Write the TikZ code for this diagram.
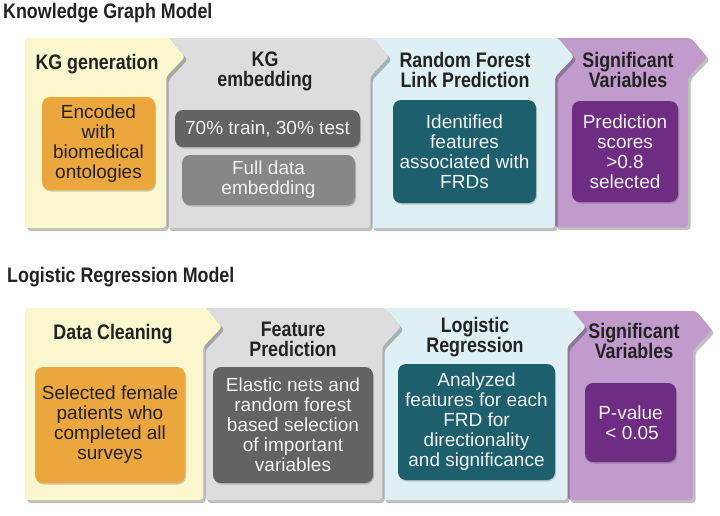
\documentclass[tikz,border=0pt]{standalone}
\usepackage{fontspec}
\setmainfont{Liberation Sans}
\newfontfamily\hdrfont[FakeStretch=0.85]{Liberation Sans}
\usetikzlibrary{shadows}
\definecolor{pyellow}{HTML}{FAF6CD}
\definecolor{pgray}{HTML}{DDDDDD}
\definecolor{pblue}{HTML}{DEF0F3}
\definecolor{ppurple}{HTML}{C09BCB}
\definecolor{borange}{HTML}{EBA63E}
\definecolor{bdgray}{HTML}{636363}
\definecolor{bmgray}{HTML}{878787}
\definecolor{bteal}{HTML}{1E5F6E}
\definecolor{bpurple}{HTML}{6E2D82}
\definecolor{txtdark}{HTML}{222222}
\definecolor{txtlight}{HTML}{F2F2F2}
\newcommand\chevpanel[5]{%
  \fill[#5, rounded corners=3pt, panelshadow] (#1,#3) -- ({#2+3},#3) -- ({#2+19},{#3+19}) -- (#2,{#3+39}) -- (#2,#4) -- (#1,#4) -- cycle;}
\begin{document}
\begin{tikzpicture}[x=1pt,y=-1pt,
  panelshadow/.style={drop shadow={shadow xshift=2.5pt,shadow yshift=-3pt,opacity=0.25,fill=black}},
  boxshadow/.style={drop shadow={shadow xshift=1pt,shadow yshift=-1.5pt,opacity=0.18,fill=black}},
  title/.style={font=\hdrfont\bfseries\fontsize{21}{20}\selectfont, text=txtdark, inner sep=0pt, anchor=base west},
  head/.style={font=\hdrfont\bfseries\fontsize{21}{20}\selectfont, text=txtdark, align=center, inner sep=0pt},
  ibox/.style={rounded corners=8pt, font=\fontsize{19}{20}\selectfont, align=center, inner sep=0pt, text=txtlight, boxshadow},
]
\fill[white] (0,0) rectangle (720,515);
\useasboundingbox (0,0) rectangle (720,515);

% ---------- Row 1 ----------
\node[title] (t1) at (3,18) {Knowledge Graph Model};
\chevpanel{555}{688}{38}{227}{ppurple}
\chevpanel{371}{555}{38}{228}{pblue}
\chevpanel{167}{370}{38}{228}{pgray}
\chevpanel{25}{166}{38}{228}{pyellow}

\node[head] (h11) at (97,64) {KG generation};
\node[head] (h12) at (265,71) {KG\\embedding};
\node[head] (h13) at (465,70) {Random Forest\\Link Prediction};
\node[head] (h14) at (628,70) {Significant\\Variables};

\node[ibox, fill=borange, text=txtdark, minimum width=113pt, minimum height=93pt] (b11) at (98.5,143.5) {Encoded\\with\\biomedical\\ontologies};
\node[ibox, fill=bdgray, minimum width=185pt, minimum height=37pt] (b12) at (267.5,128.5) {70\% train, 30\% test};
\node[ibox, fill=bmgray, minimum width=173pt, minimum height=50pt] (b13) at (268.5,180) {Full data\\embedding};
\node[ibox, fill=bteal, minimum width=143pt, minimum height=103pt] (b14) at (464.5,151.5) {Identified\\features\\associated with\\FRDs};
\node[ibox, fill=bpurple, minimum width=106pt, minimum height=101pt] (b15) at (625,151.5) {Prediction\\scores\\>0.8\\selected};

% ---------- Row 2 ----------
\node[title] (t2) at (7,282) {Logistic Regression Model};
\chevpanel{568}{693}{311}{500}{ppurple}
\chevpanel{383}{567}{308}{500}{pblue}
\chevpanel{205}{382}{308}{500}{pgray}
\chevpanel{25}{203}{308}{500}{pyellow}

\node[head] (h21) at (113,334) {Data Cleaning};
\node[head] (h22) at (293,339) {Feature\\Prediction};
\node[head] (h23) at (475,337) {Logistic\\Regression};
\node[head] (h24) at (634,341) {Significant\\Variables};

\node[ibox, fill=borange, text=txtdark, minimum width=150pt, minimum height=116pt] (b21) at (110,425) {Selected female\\patients who\\completed all\\surveys};
\node[ibox, fill=bdgray, minimum width=160pt, minimum height=116pt] (b22) at (293,425) {Elastic nets and\\random forest\\based selection\\of important\\variables};
\node[ibox, fill=bteal, minimum width=157pt, minimum height=116pt] (b23) at (476.5,422) {Analyzed\\features for each\\FRD for\\directionality\\and significance};
\node[ibox, fill=bpurple, minimum width=91pt, minimum height=79pt] (b24) at (630.5,422.5) {P-value\\ \,< 0.05};
\end{tikzpicture}
\end{document}
